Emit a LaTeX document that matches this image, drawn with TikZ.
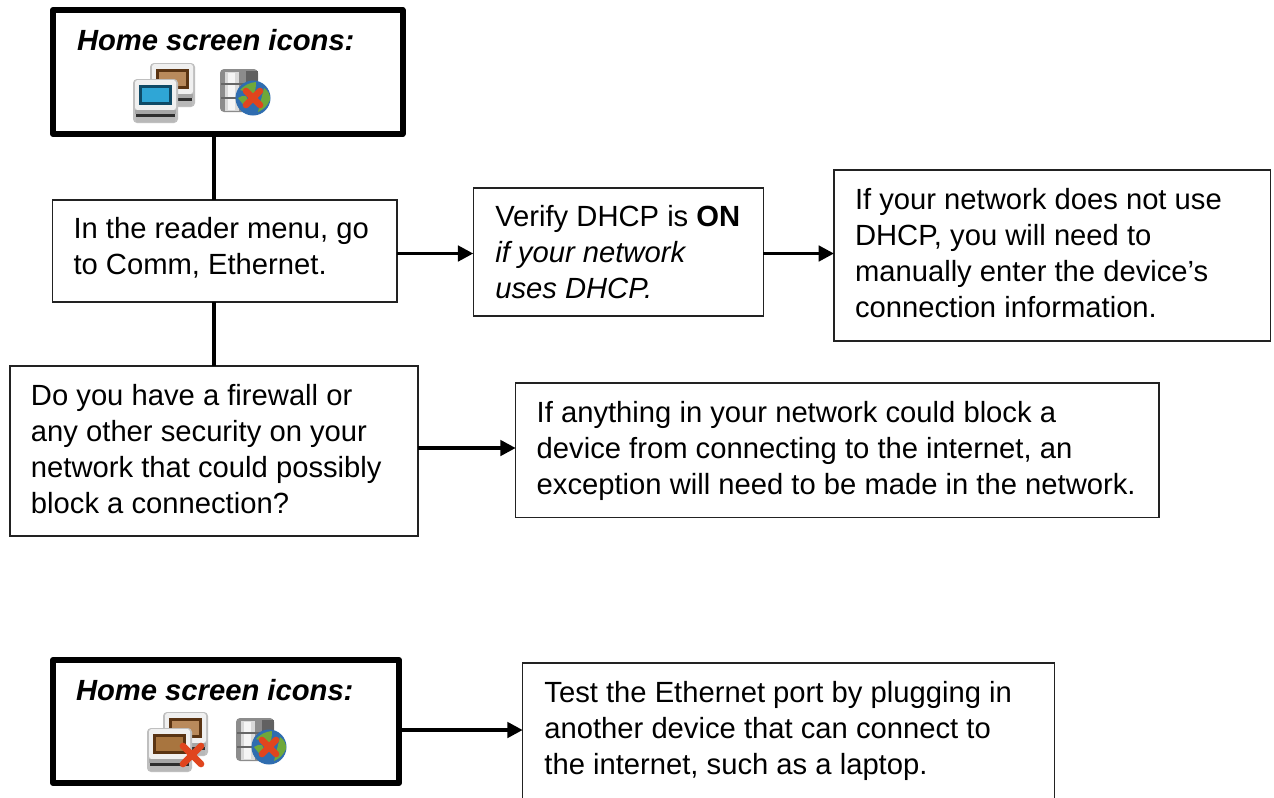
\documentclass[tikz,border=0pt]{standalone}
\usepackage{fontspec}
\setmainfont{Liberation Sans}
\usetikzlibrary{arrows.meta}
\definecolor{edge}{HTML}{222222}
\definecolor{xred}{HTML}{E0451E}
\definecolor{globeblue}{HTML}{2F6DB0}
\definecolor{globegreen}{HTML}{6FA83A}
\definecolor{scrblue}{HTML}{2FA6D6}
\definecolor{scrframe}{HTML}{0F4A66}
\definecolor{brnframe}{HTML}{5A3413}
\definecolor{brnback}{HTML}{B98A5C}
\definecolor{brnfront}{HTML}{A8753F}
\newcommand{\compunit}[4]{% x, y, frame colour, screen colour
  \begin{scope}[shift={(#1,#2)}]
    \fill[black!25,rounded corners=3pt] (0,0) rectangle (45,44);
    \fill[black!6,rounded corners=2pt] (2,1) rectangle (43,31);
    \fill[#3] (6,6) rectangle (39,26);
    \fill[#4] (9,9) rectangle (36,23);
    \fill[black!35] (2,31) rectangle (43,35);
    \fill[black!82] (3,35) rectangle (42,38);
    \fill[black!28] (3,38) rectangle (42,43);
  \end{scope}}
\newcommand{\redcross}[3]{% x, y, half size
  \draw[line width=5pt,color=xred,line cap=round] (#1-#3,#2-#3) -- (#1+#3,#2+#3) (#1-#3,#2+#3) -- (#1+#3,#2-#3);}
\newcommand{\dbglobe}[2]{% x, y of the cylinder's top left
  \begin{scope}[shift={(#1,#2)}]
    \fill[black!45,rounded corners=3pt] (0,1) rectangle (38,44);
    \fill[black!15] (5,4) rectangle (19,43);
    \fill[black!4] (8,5) rectangle (15,42);
    \fill[black!62] (26,3) rectangle (38,30);
    \fill[black!60] (1,15) rectangle (36,17);
    \fill[black!60] (1,29) rectangle (36,31);
    \fill[globeblue] (33,30) circle (17.5);
    \fill[globegreen] (20,22) to[bend left=20] (36,14) to[bend left=10] (34,26) -- cycle;
    \fill[globegreen] (18,30) to[bend left=20] (26,28) to[bend left=30] (26,40) -- cycle;
    \fill[globegreen] (44,20) to[bend left=30] (50,32) to[bend left=20] (38,44) -- cycle;
    \redcross{33}{30}{7}
  \end{scope}}
\tikzset{
  frame/.code n args={4}{%
    \pgfmathsetmacro\frmtw{(#1-2*#4)*0.75}%
    \pgfmathsetmacro\frmth{#3*0.75}%
    \pgfmathsetmacro\frmtd{(#2-#3)*0.75}%
    \pgfmathsetmacro\frmxs{#4*0.75}%
    \tikzset{text width=\frmtw pt,text height=\frmth pt,text depth=\frmtd pt,inner xsep=\frmxs pt}},
  box/.style={draw=edge,line width=1pt,fill=white,anchor=north west,inner ysep=0pt,outer sep=0pt,align=flush left,
    font=\fontsize{21.9}{27}\selectfont},
  thick box/.style={box,draw=black,line width=4.5pt,line join=round,font=\fontsize{21.9}{27}\selectfont\bfseries\itshape},
  stem/.style={draw=black,line width=3pt},
  conn/.style={draw=black,line width=2.7pt,-{Triangle[length=11.5pt,width=11.5pt]}},
}
\begin{document}
\begin{tikzpicture}[x=0.75pt,y=-0.75pt]
\useasboundingbox (0,0) rectangle (1274,797);
\fill[white] (0,0) rectangle (1274,797);
\clip (0,0) rectangle (1274,797);

\node[thick box,frame={349.5}{124}{40}{24}] (top) at (53,10) {Home screen icons:};
\node[box,frame={344.5}{102}{38}{21}] (menu) at (52.5,200) {\mbox{In the reader menu, go}\\to Comm, Ethernet.};
\node[box,frame={290}{128}{38}{22}] (verify) at (473.3,188) {\mbox{Verify DHCP is \textbf{ON}}\\\textit{if your network}\\\textit{uses DHCP.}};
\node[box,frame={436.5}{171}{39}{21}] (network) at (834,170) {If your network does not use\\DHCP, you will need to\\manually enter the device’s\\connection information.};
\node[box,frame={408}{170}{39}{21}] (firewall) at (10,366) {\mbox{Do you have a firewall or}\\\mbox{any other security on your}\\\mbox{network that could possibly}\\\mbox{block a connection?}};
\node[box,frame={643.3}{134.5}{39}{21}] (anything) at (515.7,383) {\mbox{If anything in your network could block a}\\\mbox{device from connecting to the internet, an}\\\mbox{exception will need to be made in the network.}};
\node[thick box,frame={346}{123}{40}{23}] (bottom) at (53,660) {Home screen icons:};
\node[box,frame={531.5}{160}{39}{21.7}] (test) at (522.7,663) {\mbox{Test the Ethernet port by plugging in}\\\mbox{another device that can connect to}\\\mbox{the internet, such as a laptop.}};

\coordinate (rowa) at (0,253.5);
\coordinate (rowb) at (0,448);
\coordinate (rowc) at (0,730);
\draw[stem] (firewall.north |- top.south) -- (firewall.north |- menu.north);
\draw[stem] (firewall.north |- menu.south) -- (firewall.north);
\draw[conn] (menu.east |- rowa) -- (verify.west |- rowa);
\draw[conn] (verify.east |- rowa) -- (network.west |- rowa);
\draw[conn] (firewall.east |- rowb) -- (anything.west |- rowb);
\draw[conn] (bottom.east |- rowc) -- (test.west |- rowc);

% icons, top box
\compunit{150}{63}{brnframe}{brnback}
\compunit{133}{79}{scrframe}{scrblue}
\dbglobe{220}{68}
% icons, bottom box
\compunit{163}{712}{brnframe}{brnback}
\compunit{147}{728}{brnframe}{brnfront}
\redcross{192}{755}{9}
\dbglobe{236}{717}
\end{tikzpicture}
\end{document}
